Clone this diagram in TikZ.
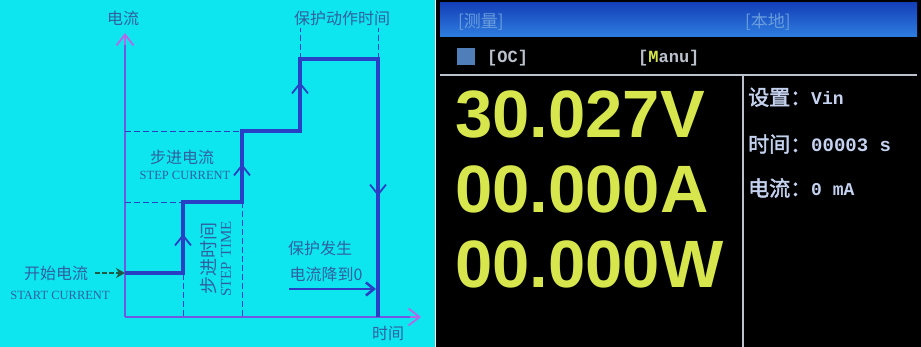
\documentclass[tikz,border=0pt]{standalone}
\usepackage{fontspec}
\setmainfont{Liberation Serif}
\setsansfont{Liberation Sans}
\setmonofont{Liberation Mono}
\newfontfamily\cjk{Noto Sans CJK SC}
\newfontfamily\cjkb[FakeBold=2]{Noto Sans CJK SC}
\usetikzlibrary{arrows.meta}
\definecolor{bgcyan}{HTML}{0EE6EF}
\definecolor{stepblue}{HTML}{2A40C4}
\definecolor{axisviolet}{HTML}{7058E0}
\definecolor{tipviolet}{HTML}{B468E8}
\definecolor{labelblue}{HTML}{30609E}
\definecolor{startgreen}{HTML}{1E5A46}
\definecolor{lcdyellow}{HTML}{D6E64C}
\definecolor{lcdtext}{HTML}{C4D2F0}
\definecolor{lcdgray}{HTML}{BCC2CC}
\definecolor{barblue}{HTML}{2E7EE0}
\definecolor{bardark}{HTML}{1440B8}
\definecolor{bartext}{HTML}{6A9EDC}
\begin{document}
\begin{tikzpicture}[x=1pt,y=-1pt,
  axis/.style={axisviolet,line width=1.8pt},
  stepline/.style={stepblue,line width=3.2pt},
  guide/.style={stepblue,line width=0.8pt,dash pattern=on 6pt off 3pt},
  barb/.style={stepblue,line width=1.8pt,-{Straight Barb[length=10pt,width=16pt]}},
  cnlabel/.style={labelblue,inner sep=1pt,font=\cjk\fontsize{16}{19}\selectfont},
  enlabel/.style={labelblue,inner sep=1pt,font=\fontsize{12.5}{13}\selectfont},
  lcdbig/.style={lcdyellow,anchor=base west,inner sep=0pt,font=\sffamily\bfseries\fontsize{67}{67}\selectfont},
  lcdinfo/.style={lcdtext,anchor=base west,inner sep=0pt,font=\cjkb\fontsize{21}{24}\selectfont},
  lcdmode/.style={lcdgray,anchor=base west,inner sep=0pt,font=\ttfamily\bfseries\fontsize{17}{20}\selectfont}]
\useasboundingbox (0,0) rectangle (921,347);
% panels
\fill[white] (0,0) rectangle (921,347);
\fill[bgcyan] (0,0) rectangle (435,347);
\fill[black] (436,0) rectangle (921,347);
\shade[top color=bardark,bottom color=barblue] (440,3) rectangle (917,37);

% left: step current chart
\coordinate (origin) at (125,317);
\coordinate (start) at (125,273);
\draw[axis] (origin) -- (125,35);
\draw[axis] (origin) -- (418,317);
\draw[tipviolet,line width=1.8pt,-{Straight Barb[length=11pt,width=17pt]}] (125,45) -- (125,33);
\draw[tipviolet,line width=1.8pt,-{Straight Barb[length=11pt,width=17pt]}] (410,317) -- (421,317);
\node[cnlabel] (ylab) at (123,18) {电流};
\node[cnlabel] (xlab) at (388,333) {时间};

% dashed guides
\draw[guide] (125,131) -- (242,131);
\draw[guide] (125,202) -- (183,202);
\draw[guide] (183,202) -- (183,317);
\draw[guide] (242,202) -- (242,317);
\draw[guide] (300,59) -- (300,28);
\draw[guide] (378,59) -- (378,28);

% the steps
\draw[stepline] (start) -- (183,273) -- (183,202) -- (242,202) -- (242,131)
  -- (300,131) -- (300,59) -- (378,59) -- (378,317);
\draw[barb] (183,246) -- (183,234);
\draw[barb] (242,176) -- (242,164);
\draw[barb] (300,94) -- (300,82);
\draw[barb] (378,184) -- (378,196);

% labels
\node[cnlabel] (prot) at (342,18) {保护动作时间};
\node[cnlabel] (stepcn) at (182,157) {步进电流};
\node[enlabel] (stepen) at (185,175) {STEP CURRENT};
\node[rotate=90,align=center,labelblue,inner sep=0pt] (steptime) at (216,259)
  {{\cjk\fontsize{18}{18}\selectfont 步进时间}\\[3pt]{\fontsize{15}{15}\selectfont STEP TIME}};
\node[cnlabel] (startcn) at (56,273) {开始电流};
\node[enlabel] (starten) at (60,295) {START CURRENT};
\draw[startgreen,line width=2.2pt,dash pattern=on 5pt off 2pt,-{Stealth[length=9pt,width=10pt]}]
  (startcn.east) ++(6,0) -- (start);
\node[cnlabel] (tripcn) at (320,248) {保护发生};
\node[cnlabel] (dropcn) at (326,274) {电流降到0};
\coordinate (dropa) at (289,289);
\coordinate (dropb) at (376,289);
\draw[stepblue,line width=2.6pt,-{Straight Barb[length=8pt,width=13pt]}] (dropa) -- (dropb);

% right: load screen
\node[bartext,anchor=base west,inner sep=0pt,font=\cjk\fontsize{17}{20}\selectfont] (mode) at (458,28) {[测量]};
\node[bartext,anchor=base west,inner sep=0pt,font=\cjk\fontsize{17}{20}\selectfont] (local) at (745,28) {[本地]};
\fill[barblue!60!gray] (457,48) rectangle (475,65);
\node[lcdmode] (oc) at (487,63) {[OC]};
\node[lcdmode] (manu) at (638,63) {[{\color{lcdyellow}M}anu]};
\draw[lcdgray,line width=2pt] (440,75) -- (917,75);
\draw[lcdgray,line width=2pt] (743,75) -- (743,347);
\node[lcdbig] (volt) at (455,138) {30.027V};
\node[lcdbig] (amp) at (455,213) {00.000A};
\node[lcdbig] (watt) at (455,288) {00.000W};
\node[lcdinfo] (vset) at (748,105) {设置：{\ttfamily\bfseries\fontsize{18}{20}\selectfont Vin}};
\node[lcdinfo] (tset) at (748,152) {时间：{\ttfamily\bfseries\fontsize{19}{20}\selectfont 00003 s}};
\node[lcdinfo] (iset) at (748,196) {电流：{\ttfamily\bfseries\fontsize{18}{20}\selectfont 0 mA}};
\end{tikzpicture}
\end{document}
